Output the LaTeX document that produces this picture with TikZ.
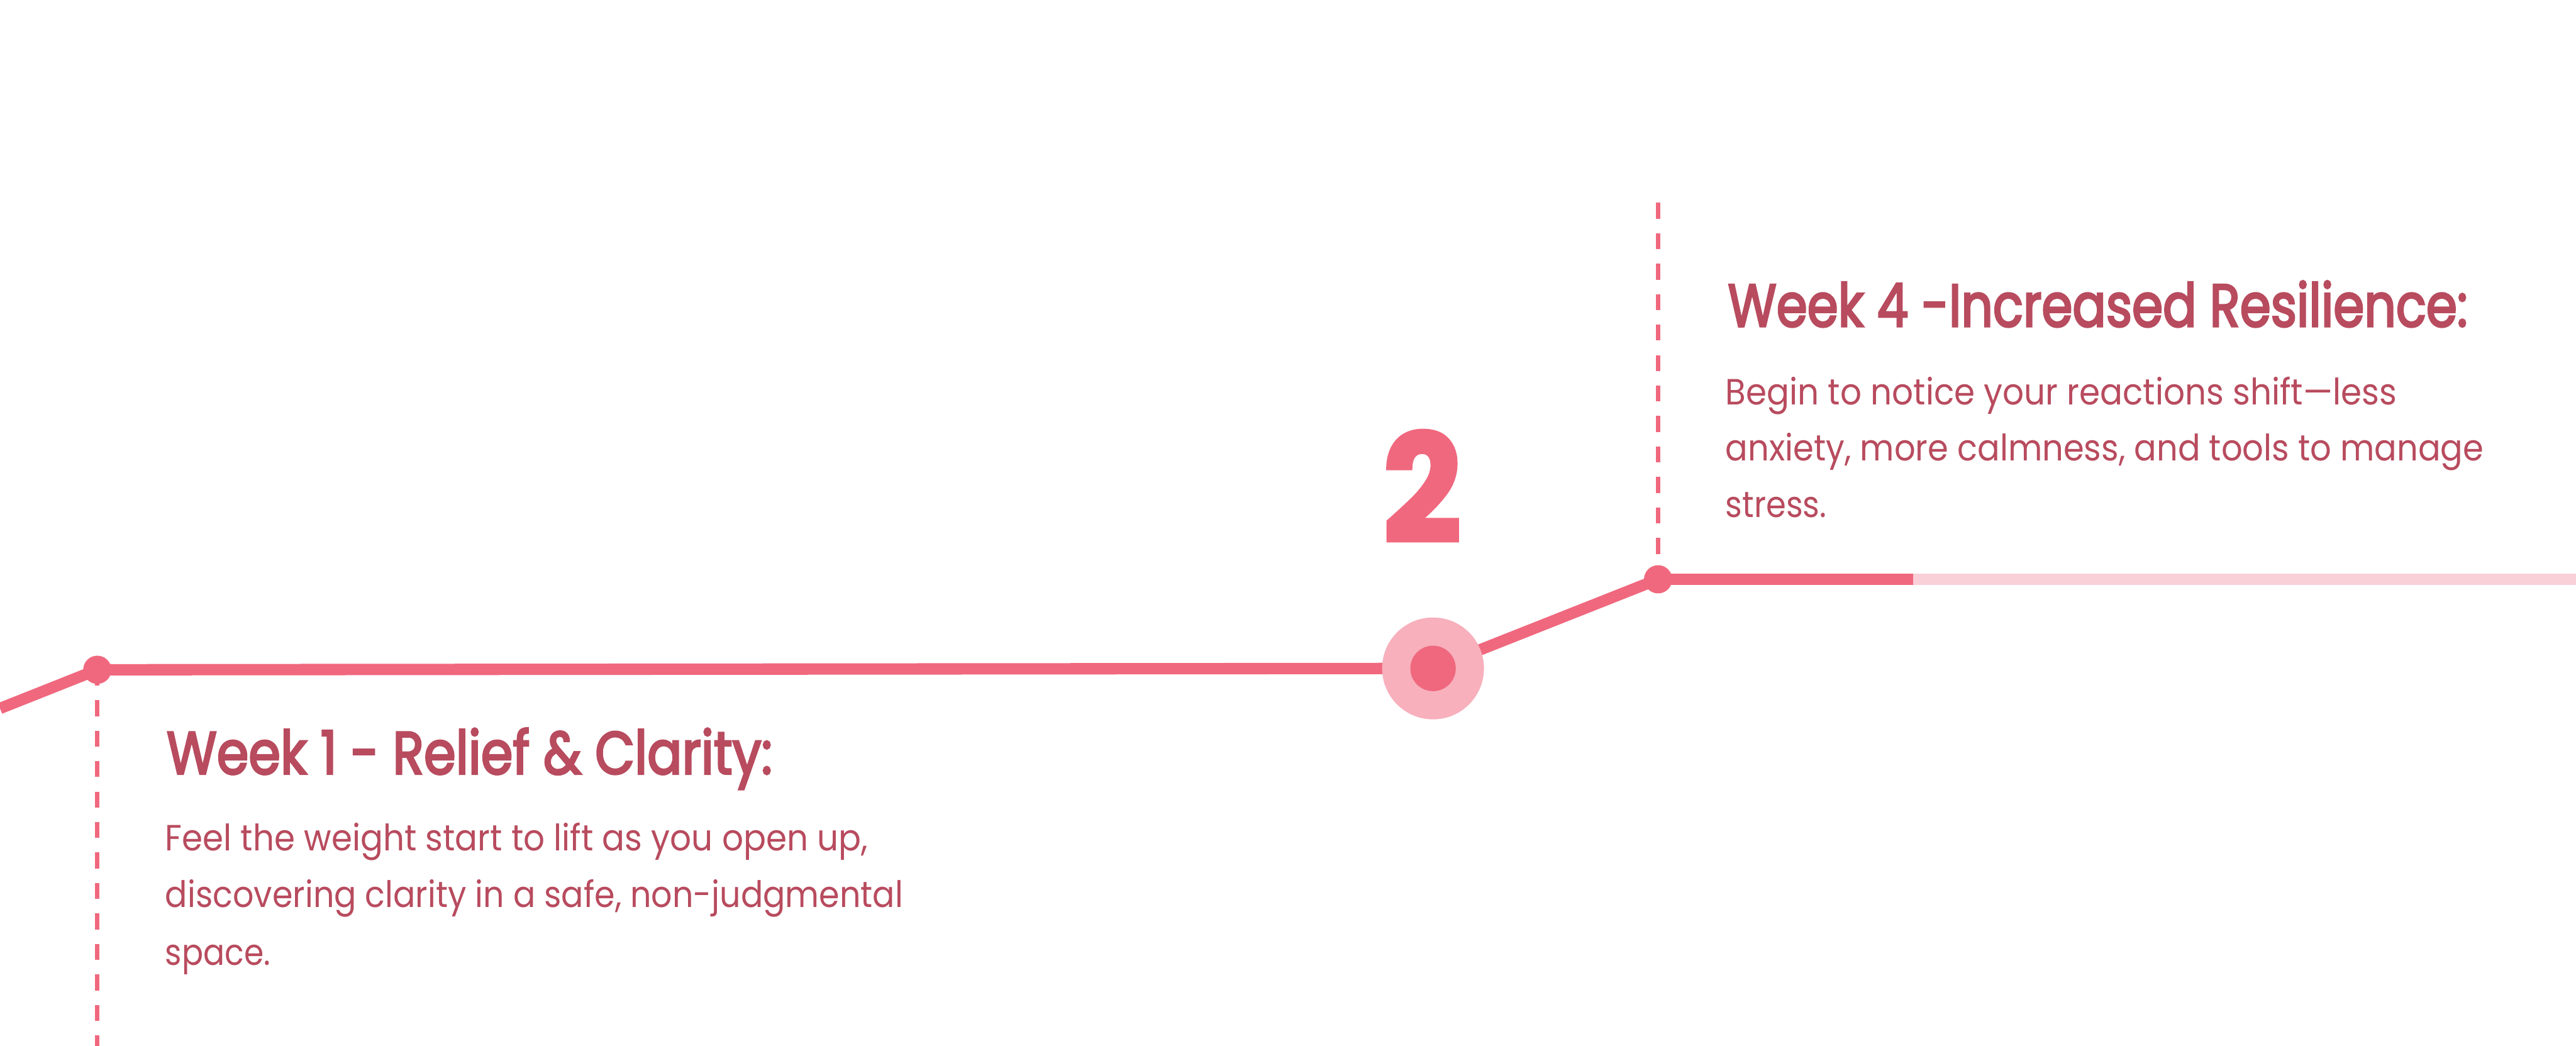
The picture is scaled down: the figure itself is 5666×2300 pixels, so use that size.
\documentclass[tikz,border=0pt]{standalone}
\usepackage{fontspec}
\usepackage{graphicx}
\setmainfont{Poppins}
\newfontfamily\popfont{Poppins}
\newfontfamily\popsemi{Poppins}[FakeBold=3.5]
\newfontfamily\popheavy{Poppins}[UprightFont=* Bold, FakeBold=2.5]
\definecolor{linepink}{HTML}{F0687E}
\definecolor{hublight}{HTML}{F7B0BC}
\definecolor{tracklight}{HTML}{F9CFD8}
\definecolor{textdark}{HTML}{B84B5E}
\pgfdeclarelayer{background}
\pgfsetlayers{background,main}
\tikzset{
  track/.style={draw=linepink, line width=2.5mm},
  tracklite/.style={draw=tracklight, line width=2.6mm},
  guide/.style={draw=linepink, line width=1mm, dash pattern=on 3.5mm off 3.2mm},
  dotnode/.style={circle, fill=linepink, minimum size=6.2mm, inner sep=0pt},
  hub/.style={circle, fill=hublight, minimum size=22.4mm, inner sep=0pt},
  hubcore/.style={circle, fill=linepink, minimum size=10mm, inner sep=0pt},
  titletext/.style={anchor=base west, inner sep=0pt, text=textdark,
    font=\popsemi\fontsize{37.5pt}{45pt}\selectfont},
  bodytext/.style={anchor=base west, inner sep=0pt, text=textdark,
    font=\popfont\fontsize{22.8pt}{30pt}\selectfont},
  bignum/.style={anchor=base, inner sep=0pt, text=linepink,
    font=\popheavy\fontsize{60pt}{70pt}\selectfont}
}
\begin{document}
\begin{tikzpicture}[x=0.1mm,y=-0.1mm]
\useasboundingbox (0,0) rectangle (5666,2300);

% points
\coordinate (lstart) at (0,1558);
\coordinate (gbot) at (214,2300);
\coordinate (gtop) at (3647,446);
\coordinate (mid) at (4208,1274);
\coordinate (rend) at (5666,1274);

% markers
\node[dotnode] (dot1) at (214,1473) {};
\node[hub] (hub) at (3152,1470) {};
\node[hubcore] (core) at (hub.center) {};
\node[dotnode] (dot2) at (3647,1274) {};

% connectors
\begin{pgfonlayer}{background}
  \fill[white] (0,0) rectangle (5666,2300);
  \draw[guide] (dot1.center) -- (gbot);
  \draw[guide] (gtop) -- (dot2.center);
  \draw[tracklite] (mid) -- (rend);
  \draw[track] (lstart) -- (dot1.center);
  \draw[track] (dot1.center) -- (hub.center);
  \draw[track] (hub.center) -- (dot2.center);
  \draw[track] (dot2.center) -- (mid);
\end{pgfonlayer}

% big number
\node[bignum] (num) at (3128,1192) {\resizebox{17.3mm}{24.5mm}{2}};

% week 1
\node[titletext] (t1) at (366,1702) {\resizebox{133.2mm}{\height}{Week 1 - Relief \& Clarity:}};
\node[bodytext] (b1a) at (363,1871) {\resizebox{154.5mm}{\height}{Feel the weight start to lift as you open up,}};
\node[bodytext] (b1b) at (363,1996) {\resizebox{162.3mm}{\height}{discovering clarity in a safe, non-judgmental}};
\node[bodytext] (b1c) at (363,2123) {\resizebox{23.1mm}{\height}{space.}};

% week 4
\node[titletext] (t4) at (3800,718) {\resizebox{162.7mm}{\height}{Week 4 -Increased Resilience:}};
\node[bodytext] (b4a) at (3795,890) {\resizebox{147.6mm}{\height}{Begin to notice your reactions shift—less}};
\node[bodytext] (b4b) at (3795,1013) {\resizebox{166.7mm}{\height}{anxiety, more calmness, and tools to manage}};
\node[bodytext] (b4c) at (3795,1138) {\resizebox{22.2mm}{\height}{stress.}};
\end{tikzpicture}
\end{document}
